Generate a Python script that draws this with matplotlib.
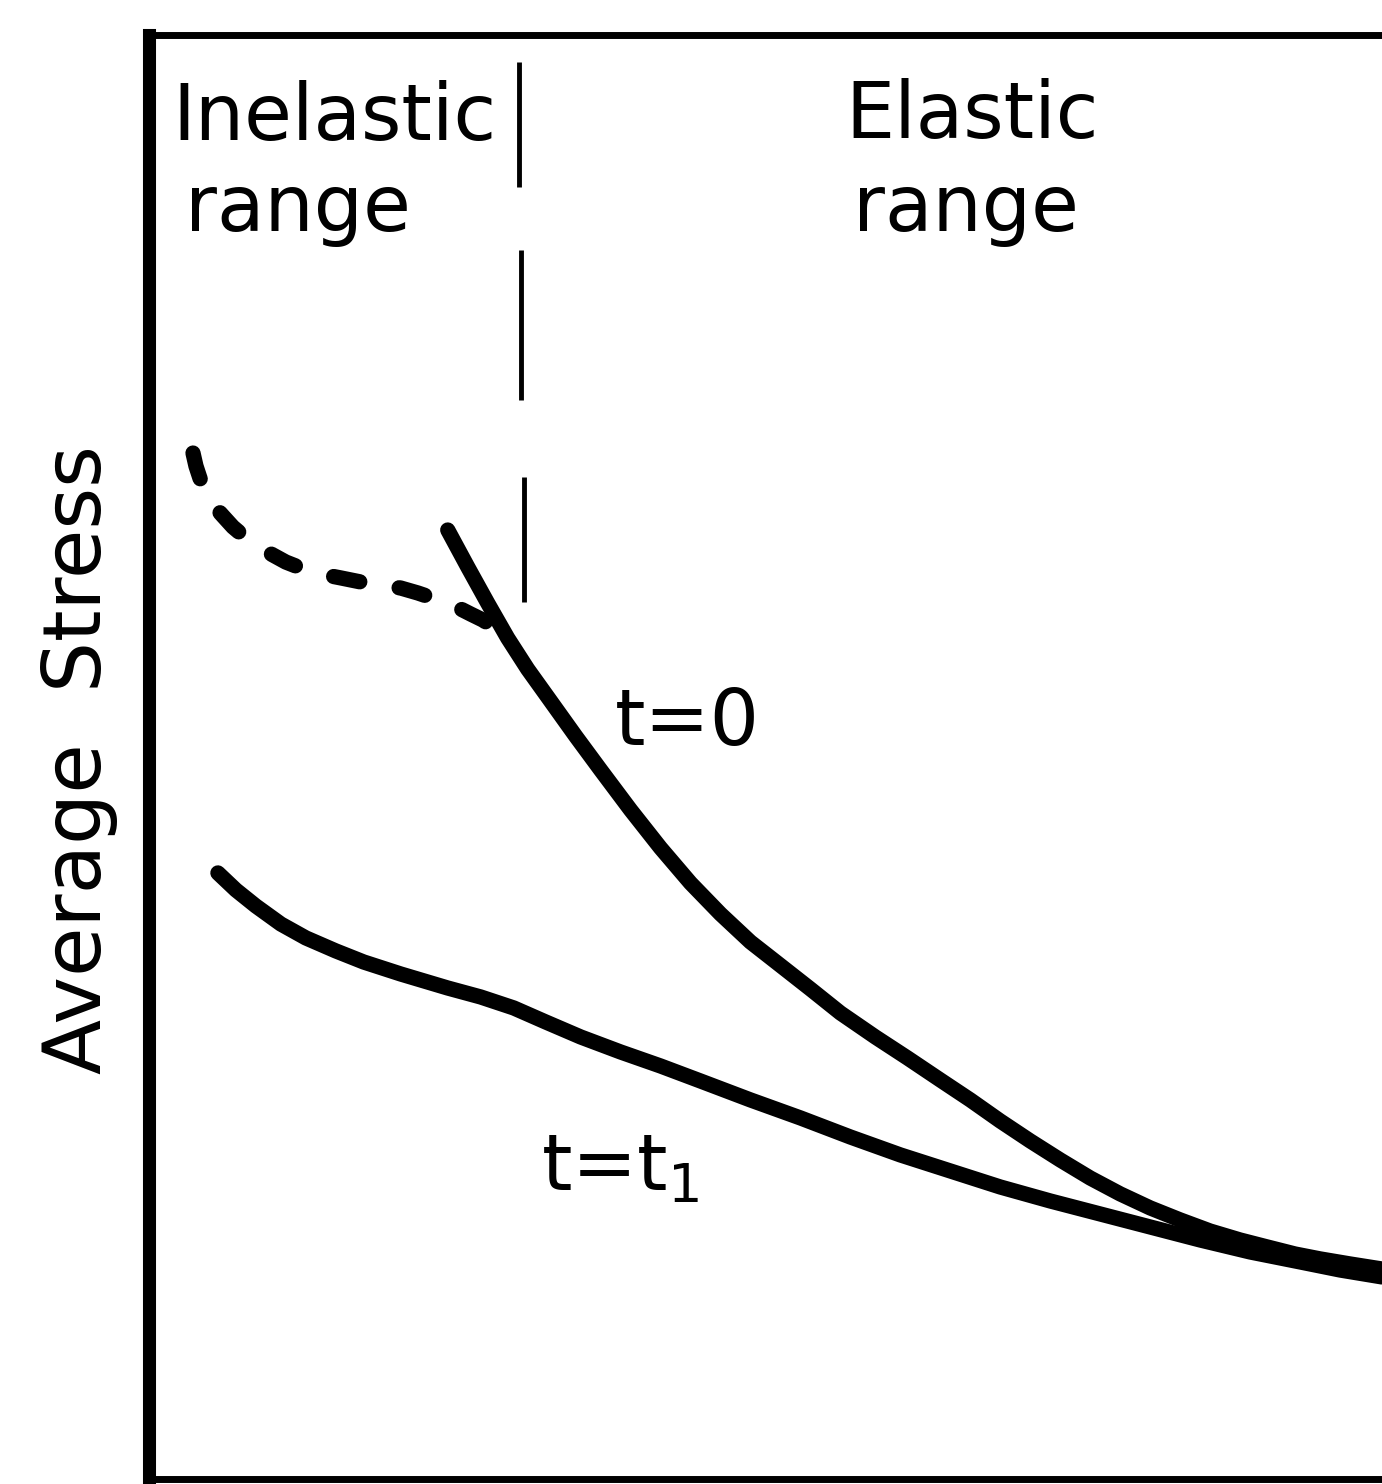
import matplotlib.pyplot as plt
import numpy as np

# Schematic average stress vs. slenderness, arbitrary units (0-10 on both axes)

# t = 0 curve (elastic buckling curve)
t0_x = [2.423, 2.585, 2.747, 2.909, 3.071, 3.233, 3.460, 3.663, 3.906, 4.149,
        4.392, 4.635, 4.878, 5.065, 5.365, 5.608, 5.891, 6.151, 6.418, 6.661,
        6.904, 7.147, 7.391, 7.634, 7.877, 8.120, 8.363, 8.606, 8.849, 9.068,
        9.295, 9.498, 9.741, 10.0]
t0_y = [6.572, 6.316, 6.066, 5.824, 5.609, 5.416, 5.145, 4.910, 4.633, 4.370,
        4.127, 3.913, 3.719, 3.594, 3.393, 3.227, 3.061, 2.916, 2.763, 2.625,
        2.479, 2.341, 2.209, 2.084, 1.974, 1.877, 1.794, 1.717, 1.655, 1.607,
        1.558, 1.524, 1.489, 1.454]

# t = t1 curve
t1_x = [0.559, 0.705, 0.867, 1.070, 1.272, 1.515, 1.742, 2.042, 2.423, 2.690,
        2.958, 3.217, 3.501, 3.825, 4.149, 4.473, 4.878, 5.284, 5.689, 6.094,
        6.499, 6.904, 7.310, 7.715, 8.120, 8.525, 8.930, 9.335, 9.660, 10.0]
t1_y = [4.197, 4.079, 3.968, 3.843, 3.747, 3.657, 3.580, 3.497, 3.400, 3.338,
        3.262, 3.165, 3.061, 2.957, 2.860, 2.756, 2.625, 2.500, 2.368, 2.244,
        2.133, 2.022, 1.925, 1.835, 1.745, 1.655, 1.572, 1.503, 1.447, 1.399]

# inelastic branch of the t = 0 curve (dashed)
inel_x = [0.357, 0.381, 0.413, 0.446, 0.478, 0.535, 0.600, 0.681, 0.786, 0.891,
          1.005, 1.110, 1.232, 1.394, 1.556, 1.718, 1.880, 2.042, 2.180, 2.301,
          2.407, 2.512, 2.609, 2.707, 2.796]
inel_y = [7.105, 7.015, 6.932, 6.863, 6.801, 6.731, 6.669, 6.593, 6.517, 6.454,
          6.399, 6.350, 6.309, 6.267, 6.240, 6.212, 6.191, 6.170, 6.136, 6.101,
          6.066, 6.032, 5.990, 5.949, 5.900]

# broken divider between inelastic and elastic ranges
divider_x = [3.00, 3.02, 3.04]
divider_lo = [8.95, 7.47, 6.07]
divider_hi = [9.81, 8.51, 6.94]

fig = plt.figure(figsize=(13.82, 14.84), dpi=100)
ax = fig.add_axes([0.1078, 0.0034, 0.8922, 0.9730])
ax.set_xlim(0, 10)
ax.set_ylim(0, 10)

ax.plot(t0_x, t0_y, color='black', lw=11, solid_capstyle='round',
        solid_joinstyle='round')
ax.plot(t1_x, t1_y, color='black', lw=11, solid_capstyle='round',
        solid_joinstyle='round')
ax.plot(inel_x, inel_y, color='black', lw=11, dashes=(1.75, 2.6),
        dash_capstyle='round', dash_joinstyle='round')
ax.vlines(divider_x, divider_lo, divider_hi, color='black', lw=3.5)

fs = 56
ax.text(0.19, 9.27, "Inelastic", fontsize=fs, va='baseline')
ax.text(0.29, 8.64, "range", fontsize=fs, va='baseline')
ax.text(5.65, 9.29, "Elastic", fontsize=fs, va='baseline')
ax.text(5.71, 8.64, "range", fontsize=fs, va='baseline')
ax.text(3.78, 5.08, "t=0", fontsize=fs, va='baseline')
ax.text(3.18, 2.00, r"t=t$_1$", fontsize=fs, va='baseline')

ax.set_ylabel("Average  Stress", fontsize=58, va='center')
ax.yaxis.set_label_coords(-0.0568, 0.498)

ax.set_xticks([])
ax.set_yticks([])
ax.spines['right'].set_visible(False)
ax.spines['left'].set_linewidth(9.4)
ax.spines['top'].set_linewidth(5)
ax.spines['bottom'].set_linewidth(5)

fig.savefig('out.png', dpi=100)
